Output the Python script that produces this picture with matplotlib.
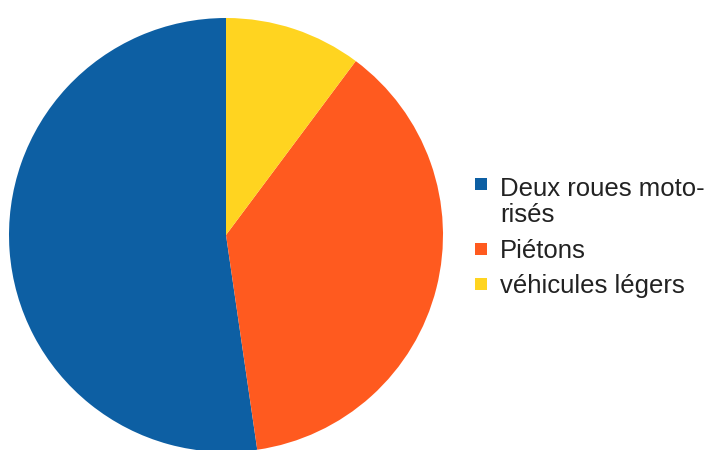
import matplotlib
matplotlib.use("Agg")
import matplotlib.pyplot as plt
from matplotlib.patches import Rectangle

plt.rcParams["font.family"] = ["Liberation Sans", "DejaVu Sans"]

labels = ["Deux roues moto-\nrisés", "Piétons", "véhicules légers"]
shares = [52.3, 37.5, 10.2]
colors = ["#0d5fa3", "#ff5a1f", "#ffd420"]

W, H = 707, 450
fig = plt.figure(figsize=(W / 100, H / 100), dpi=100)

# pie: centre (226, 235) px from top-left, radius 217 px
cx, cy, r = 226, 235, 217
ax = fig.add_axes([(cx - r) / W, (H - cy - r) / H, 2 * r / W, 2 * r / H])
ax.pie(shares, colors=colors, startangle=90, counterclock=True,
       radius=1, wedgeprops=dict(linewidth=0))
ax.set_xlim(-1, 1)
ax.set_ylim(-1, 1)
ax.set_aspect("equal")
ax.axis("off")

# legend, drawn by hand to keep the square on the first line
sq = 12
box_x = 475
text_x = 500
first_baselines = [193, 258, 293]
line_h = 29
for lab, col, yb in zip(labels, colors, first_baselines):
    fig.patches.append(Rectangle((box_x / W, (H - yb + 3) / H), sq / W, sq / H,
                                 transform=fig.transFigure, facecolor=col,
                                 edgecolor="none"))
    n = lab.count("\n")
    # matplotlib puts the baseline of the last line at y
    fig.text(text_x / W, (H - yb - n * line_h) / H, lab, fontsize=18.5,
             color="#222222", va="baseline", ha="left", linespacing=1.12)

fig.savefig("out.png", dpi=100)
